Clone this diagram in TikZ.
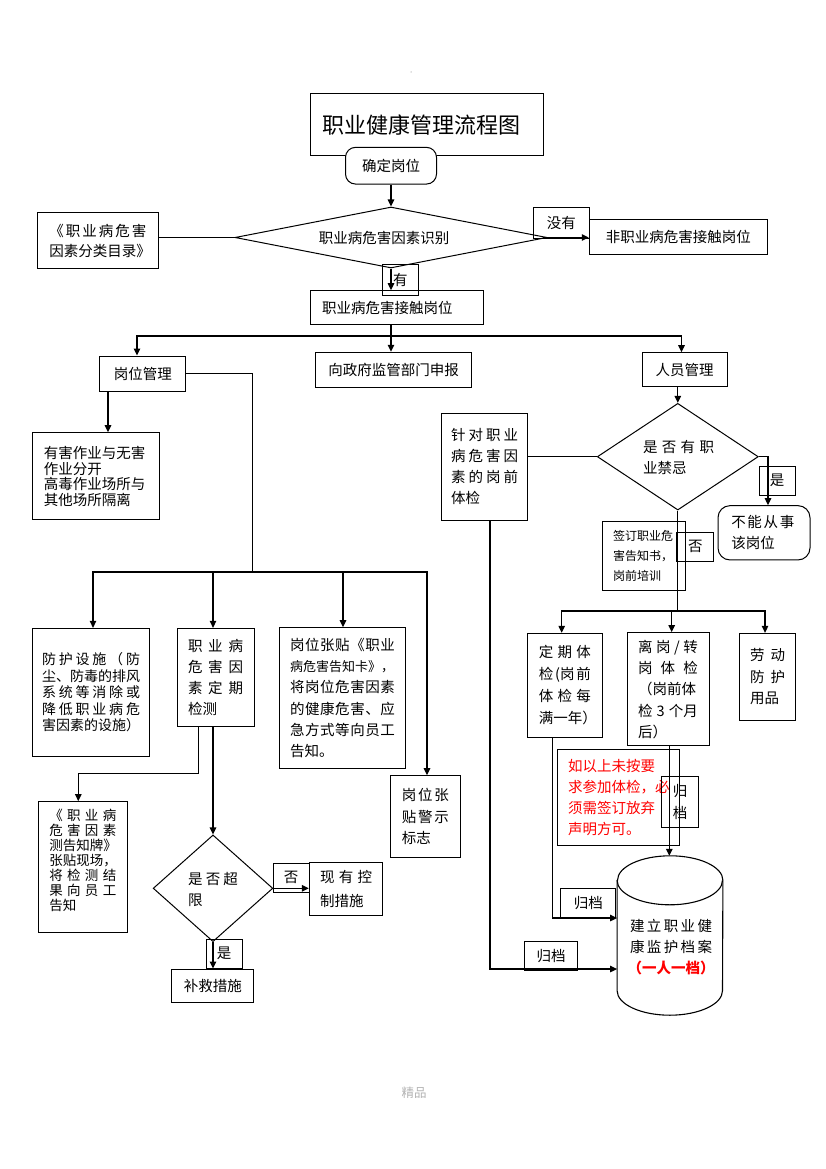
\documentclass[tikz,border=0pt]{standalone}
\usepackage{fontspec}
\setmainfont{Noto Sans CJK SC}
\usetikzlibrary{arrows.meta,shapes.geometric}
\newcommand{\fs}{\fontsize{14.5pt}{21pt}\selectfont}
\newcommand{\sprd}[2]{\makebox[#1][s]{\spaceskip=0pt plus 1fil\xspaceskip=0pt plus 1fil\relax #2}}
\tikzset{
  bx/.style={draw, line width=1pt, inner xsep=11pt, inner ysep=1pt, align=left, font=\fs},
  cbx/.style={bx, align=center},
  lab/.style={draw, line width=1pt, inner sep=0pt, align=center, font=\fs},
  dia/.style={diamond, draw, line width=1pt, inner sep=0pt},
  ln/.style={line width=1.2pt},
  arr/.style={ln, -{Triangle[length=7pt,width=6.5pt]}},
  txt/.style={inner sep=0pt, align=left, font=\fs},
}
\begin{document}
\begin{tikzpicture}[x=1pt,y=-1pt]
\useasboundingbox (0,0) rectangle (826,1169);

\node[circle, fill=gray!50, inner sep=0pt, minimum size=1.5pt] (dot) at (411,72) {};

% top
\node[bx, text width=209pt, inner xsep=12pt, minimum height=62pt, font=\fontsize{22pt}{26pt}\selectfont] (title) at (426.5,125) {职业健康管理流程图};
\node[cbx, rounded corners=10pt, fill=white, text width=69pt, minimum height=36.7pt] (queding) at (391,165.7) {确定岗位};
\node[bx, text width=97pt, inner xsep=12pt, minimum height=56.3pt, font=\fontsize{14.5pt}{20pt}\selectfont] (mulu) at (97.8,240.8) {\sprd{97pt}{《 职 业 病 危 害}\\因素分类目录》};
\node[dia, minimum width=312pt, minimum height=61pt] (shibie) at (391,237.5) {};
\node[txt] (shibiet) at (384,238) {职业病危害因素识别};
\node[lab, minimum width=56pt, minimum height=31pt] (meiyou) at (561.3,222.8) {没有};
\node[cbx, text width=156pt, minimum height=34.7pt] (feizhiye) at (678.3,236.7) {非职业病危害接触岗位};
\node[lab, minimum width=36pt, minimum height=31pt] (you) at (400.3,279.5) {有};
\node[bx, text width=150pt, inner xsep=11.3pt, minimum height=34.3pt] (jiechu) at (397,307.8) {职业病危害接触岗位};
\node[cbx, text width=134pt, minimum height=35.4pt] (zhengfu) at (393.7,370) {向政府监管部门申报};
\node[cbx, text width=63.7pt, minimum height=35pt] (gangwei) at (142.8,373.5) {岗位管理};
\node[cbx, text width=63pt, minimum height=34pt] (renyuan) at (684.5,369.7) {人员管理};

% left branch
\node[bx, text width=104.7pt, inner xsep=11.3pt, minimum height=87.3pt, font=\fontsize{14.5pt}{15.5pt}\selectfont] (youhai) at (96.3,476.3) {有害作业与无害\\作业分开\\高毒作业场所与\\其他场所隔离};
\node[bx, text width=98pt, inner xsep=9.3pt, minimum height=127.7pt, font=\fontsize{14pt}{16.5pt}\selectfont] (fanghu) at (91,692.2) {\sprd{98pt}{防 护 设 施 （ 防}\\尘、防毒的排风\\\sprd{98pt}{系 统 等 消 除 或}\\\sprd{98pt}{降 低 职 业 病 危}\\害因素的设施）};
\node[bx, text width=55.6pt, inner xsep=10.7pt, minimum height=97.7pt] (jiance) at (215.8,677.2) {\sprd{55pt}{职 业 病}\\\sprd{55pt}{危 害 因}\\\sprd{55pt}{素 定 期}\\检测};
\node[bx, text width=105pt, inner xsep=10.7pt, minimum height=140.6pt, font=\fontsize{14.5pt}{21.3pt}\selectfont] (zhangtie) at (342.5,698) {\sprd{105pt}{岗 位 张 贴 《 职 业}\\{\fontsize{13pt}{21.3pt}\selectfont 病危害告知卡》，}\\\sprd{105pt}{将 岗 位 危 害 因 素}\\\sprd{105pt}{的 健 康 危 害 、 应}\\\sprd{105pt}{急 方 式 等 向 员 工}\\告知。};
\node[bx, text width=47pt, inner xsep=11.2pt, minimum height=81.6pt, font=\fontsize{14.5pt}{21.5pt}\selectfont] (jingshi) at (425.3,816.5) {\sprd{47pt}{岗 位 张}\\\sprd{47pt}{贴 警 示}\\标志};
\node[bx, text width=67pt, inner xsep=11pt, minimum height=130.6pt, font=\fontsize{13.5pt}{15pt}\selectfont] (gaozhipai) at (82.8,867) {\sprd{67pt}{《 职 业 病}\\\sprd{67pt}{危 害 因 素}\\测告知牌》\\张贴现场，\\\sprd{67pt}{将 检 测 结}\\\sprd{67pt}{果 向 员 工}\\告知\\\mbox{}};
\node[dia, minimum width=119.7pt, minimum height=106.7pt] (chaoxian) at (213,888.3) {};
\node[txt, text width=50pt] (chaoxiant) at (213,889) {\sprd{50pt}{是 否 超}\\限};
\node[lab, minimum width=36.3pt, minimum height=29pt] (fou1) at (291.2,877.5) {否};
\node[bx, text width=51.6pt, inner xsep=10.7pt, minimum height=53.3pt, font=\fontsize{14.5pt}{24pt}\selectfont] (xianyou) at (345.8,889.3) {\sprd{52pt}{现 有 控}\\制措施};
\node[lab, minimum width=36pt, minimum height=29pt] (shi1) at (224,953.5) {是};
\node[cbx, text width=60.3pt, minimum height=33pt] (bujiu) at (212.8,985.5) {补救措施};

% right branch
\node[bx, text width=67pt, inner xsep=9.5pt, minimum height=106.7pt] (zhendui) at (484.7,466.7) {\sprd{67pt}{针 对 职 业}\\\sprd{67pt}{病 危 害 因}\\\sprd{67pt}{素 的 岗 前}\\体检};
\node[dia, minimum width=161pt, minimum height=106.7pt] (jinji) at (677.8,456.7) {};
\node[txt, text width=71pt] (jinjit) at (678.5,457.5) {\sprd{71pt}{是 否 有 职}\\业禁忌};
\node[lab, minimum width=36pt, minimum height=29pt] (shi2) at (777,480.5) {是};
\node[bx, rounded corners=12pt, text width=65.4pt, inner xsep=13.3pt, minimum height=54.3pt] (buneng) at (764,532.8) {\sprd{63pt}{不 能 从 事}\\该岗位};
\node[bx, text width=61pt, inner xsep=11pt, minimum height=69pt, font=\fontsize{12pt}{20pt}\selectfont] (qianding) at (643.5,556.2) {签订职业危\\害告知书，\\岗前培训};
\node[lab, minimum width=37.3pt, minimum height=29pt] (fou2) at (695.3,546.5) {否};
\node[bx, text width=52pt, inner xsep=11.5pt, minimum height=104pt, font=\fontsize{14.5pt}{22pt}\selectfont] (dingqi) at (564.8,685.3) {\sprd{52pt}{定 期 体}\\\sprd{52pt}{检 (岗 前}\\\sprd{52pt}{体 检 每}\\满一年）};
\node[bx, text width=60.6pt, inner xsep=10.7pt, minimum height=113.3pt, font=\fontsize{14.5pt}{21.3pt}\selectfont] (ligang) at (668.3,689.3) {\sprd{60pt}{离 岗 / 转}\\\sprd{60pt}{岗 体 检}\\（岗前体\\\sprd{60pt}{检 3 个月}\\后）};
\node[bx, text width=35pt, inner xsep=10.7pt, minimum height=86.7pt, font=\fontsize{14.5pt}{21.5pt}\selectfont] (laodong) at (767.5,676.7) {\sprd{35pt}{劳 动}\\\sprd{35pt}{防 护}\\用品};
\node[bx, text width=101pt, inner xsep=10.3pt, minimum height=96pt, text=red] (note) at (618.5,797.3) {如以上未按要\\求参加体检，必\\须需签订放弃\\声明方可。};
\node[lab, minimum width=36.6pt, minimum height=51.3pt, font=\fontsize{14.5pt}{22pt}\selectfont] (guidang0) at (680,801.7) {归\\档};

% archive cylinder
\node[minimum width=105.4pt, minimum height=159pt, inner sep=0pt] (archive) at (670,935.5) {};
\draw[line width=1.1pt] ([yshift=-24.5pt]archive.north west) -- ([yshift=24.5pt]archive.south west)
  arc[start angle=180, end angle=360, x radius=52.7pt, y radius=24.5pt]
  -- ([yshift=-24.5pt]archive.north east)
  arc[start angle=0, end angle=180, x radius=52.7pt, y radius=24.5pt] -- cycle;
\draw[line width=1.1pt] ([yshift=-24.5pt]archive.north west) arc[start angle=180, end angle=360, x radius=52.7pt, y radius=24.5pt];
\node[txt, align=center] (archivet) at (671,947) {\sprd{82pt}{建 立 职 业 健}\\\sprd{82pt}{康 监 护 档 案}\\\textcolor{red}{\bfseries （一人一档）}};
\node[lab, minimum width=54.7pt, minimum height=29pt] (guidang1) at (588.3,902.8) {归档};
\node[lab, minimum width=53.4pt, minimum height=28.7pt] (guidang2) at (551,955.7) {归档};

\node[font=\fontsize{12.5pt}{14pt}\selectfont, text=gray!60] (jingpin) at (414,1093) {精品};

% connectors
\draw[arr] (queding.south) -- (queding.south |- shibie.north);
\draw[ln] (shibie.west -| mulu.east) -- (shibie.west);
\draw[arr] (shibie.east) -- (shibie.east -| feizhiye.west);
\draw[arr] (shibie.south) -- (shibie.south |- jiechu.north);
\draw[arr] (shibie.south |- jiechu.south) -- (shibie.south |- zhengfu.north);
\coordinate (s1) at (391,336);
\draw[arr] (s1) -| ([xshift=-5.8pt]gangwei.north);
\draw[arr] (s1) -| ([xshift=-3pt]renyuan.north);
\draw[arr] ([xshift=-34.8pt]gangwei.south) -- ([xshift=-34.8pt]gangwei.south |- youhai.north);
\coordinate (s2) at (252.7,572);
\draw[ln] (gangwei.east) -| (s2);
\draw[arr] (s2) -| ([xshift=2pt]fanghu.north);
\draw[arr] (s2) -| ([xshift=-2.8pt]jiance.north);
\draw[arr] (s2) -| ([xshift=0.5pt]zhangtie.north);
\draw[arr] (s2) -| ([xshift=1.7pt]jingshi.north);
\coordinate (s3) at (198.3,773.7);
\draw[arr] ([xshift=-17.5pt]jiance.south) -- (s3) -| ([xshift=-4.5pt]gaozhipai.north);
\draw[arr] ([xshift=-2.8pt]jiance.south) -- ([xshift=-2.8pt]jiance.south |- chaoxian.north);
\draw[arr] (chaoxian.east) -- (chaoxian.east -| xianyou.west);
\draw[arr] (chaoxian.south) -- (chaoxian.south |- bujiu.north);

\draw[arr] (renyuan.south -| jinji.north) -- (jinji.north);
\draw[ln] (jinji.west -| zhendui.east) -- (jinji.west);
\draw[arr] (jinji.east) -| ([xshift=4pt]buneng.north);
\coordinate (s4) at (677.8,611);
\draw[ln] (jinji.south) -- (s4);
\draw[arr] (s4) -| ([xshift=-3.1pt]dingqi.north);
\draw[arr] (s4) -| ([xshift=3.4pt]ligang.north);
\draw[arr] (s4) -| ([xshift=-2.5pt]laodong.north);
\draw[arr] ([xshift=1pt]ligang.south) -- ([xshift=1pt]ligang.south |- archive.north);
\draw[arr] ([xshift=-12.1pt]dingqi.south) |- ([yshift=17.5pt]archive.west);
\draw[arr] ([xshift=5.3pt]zhendui.south) |- ([yshift=-33.5pt]archive.west);
\end{tikzpicture}
\end{document}
